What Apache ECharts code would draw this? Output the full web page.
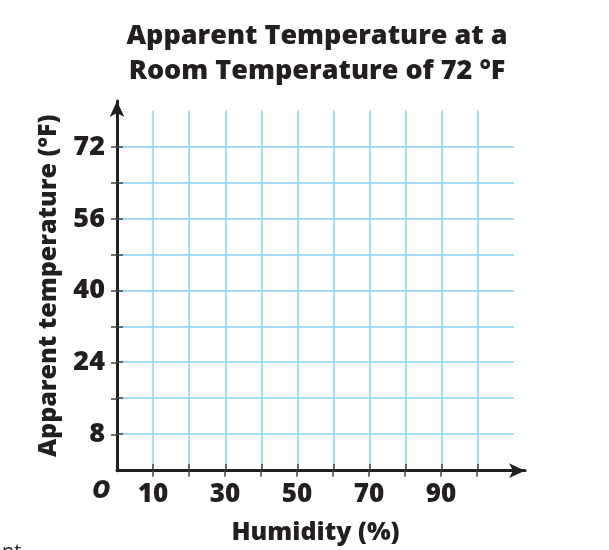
<!DOCTYPE html>
<html><head><meta charset="utf-8">
<script src="https://cdn.jsdelivr.net/npm/echarts@6/dist/echarts.min.js"></script>
<style>html,body{margin:0;padding:0;background:#fff}#c{width:609px;height:550px}</style>
</head><body><div id="c"></div>
<script>
const titleLines = ['Apparent Temperature at a', 'Room Temperature of 72 °F'];
const xName = 'Humidity (%)';
const yName = 'Apparent temperature (°F)';
const xTickValues = [10, 20, 30, 40, 50, 60, 70, 80, 90, 100];
const xLabelValues = [10, 30, 50, 70, 90];
const yTickValues = [8, 16, 24, 32, 40, 48, 56, 64, 72];
const yLabelValues = [8, 24, 40, 56, 72];
const xRange = [0, 110];
const yRange = [0, 80];

const FONT = 'Open Sans';
const W = 800;
const INK = '#231f20';
const GRIDC = '#88d3f2';

const chart = echarts.init(document.getElementById('c'), null, {renderer: 'canvas'});
chart.setOption({
  backgroundColor: '#fff',
  animation: false,
  title: {
    text: titleLines.join('\n'),
    left: 312, top: 14, textAlign: 'center',
    textStyle: {fontFamily: FONT, fontWeight: W, fontSize: 27, lineHeight: 35, color: INK}
  },
  grid: [
    {left: 117, right: 95, top: 110.7, bottom: 79.3},
    {left: 117, right: 84, top: 101, bottom: 79.3}
  ],
  xAxis: [
    {gridIndex: 0, type: 'value', min: xRange[0], max: xRange[1], interval: 10,
     name: xName, nameLocation: 'middle', nameGap: 50,
     nameTextStyle: {fontFamily: FONT, fontWeight: W, fontSize: 25, color: INK},
     axisLine: {show: false},
     axisTick: {show: true, inside: true, length: 6, customValues: xTickValues, lineStyle: {color: '#444', width: 1.5}},
     axisLabel: {show: false},
     splitLine: {show: true, lineStyle: {color: GRIDC, width: 1.5}}},
    {gridIndex: 1, type: 'value', min: 0, max: 113.3,
     axisLine: {show: true, symbol: ['none', 'arrow'], symbolSize: [11, 16], lineStyle: {color: INK, width: 3}},
     axisTick: {show: true, length: 6, customValues: xTickValues, lineStyle: {color: '#444', width: 1.5}},
     axisLabel: {show: true, customValues: xLabelValues, margin: 11,
       fontFamily: FONT, fontWeight: W, fontSize: 26, color: INK},
     splitLine: {show: false}}
  ],
  yAxis: [
    {gridIndex: 0, type: 'value', min: yRange[0], max: yRange[1], interval: 8,
     axisLine: {show: false},
     axisTick: {show: true, inside: true, length: 6, customValues: yTickValues, lineStyle: {color: '#444', width: 1.5}},
     axisLabel: {show: false},
     splitLine: {show: true, lineStyle: {color: GRIDC, width: 1.5}}},
    {gridIndex: 1, type: 'value', min: 0, max: 82.2,
     name: yName, nameLocation: 'middle', nameGap: 56,
     nameTextStyle: {fontFamily: FONT, fontWeight: W, fontSize: 25, color: INK},
     axisLine: {show: true, symbol: ['none', 'arrow'], symbolSize: [11, 16], lineStyle: {color: INK, width: 3}},
     axisTick: {show: true, length: 6, customValues: yTickValues, lineStyle: {color: '#444', width: 1.5}},
     axisLabel: {show: true, customValues: yLabelValues, margin: 12,
       fontFamily: FONT, fontWeight: W, fontSize: 27, color: INK},
     splitLine: {show: false}}
  ],
  graphic: [
    {type: 'text', left: 92, top: 478, style: {text: 'O', fontFamily: FONT, fontStyle: 'italic', fontWeight: W, fontSize: 25, fill: INK}},
    {type: 'text', left: 2, top: 542, style: {text: 'nt', fontFamily: FONT, fontSize: 20, fill: INK}}
  ],
  series: [
    {type: 'scatter', xAxisIndex: 0, yAxisIndex: 0, data: []},
    {type: 'scatter', xAxisIndex: 1, yAxisIndex: 1, data: []}
  ]
});
</script></body></html>
